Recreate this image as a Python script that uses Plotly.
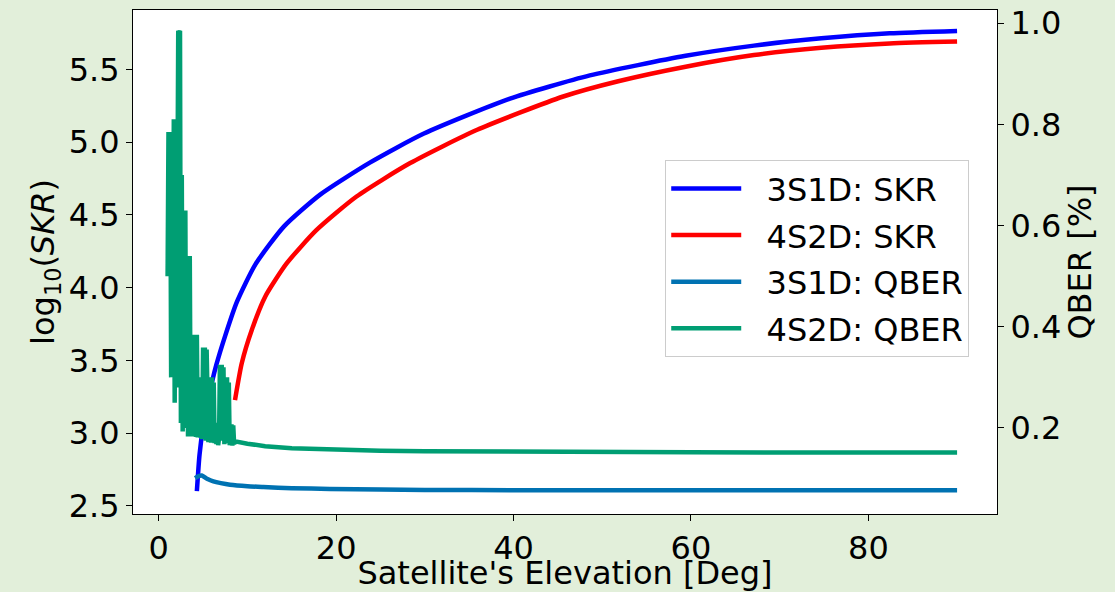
import plotly.graph_objects as go

# ---- data ----
skr3_x = [4.3, 4.6, 5.0, 5.5, 6.0, 6.5, 7.5, 8.8, 10.9, 14.1, 18.2, 23.8, 29.9, 39.6, 48.6, 59.4, 67.1, 74.7, 82.4, 90.0]
skr3_y = [2.60, 2.85, 3.04, 3.21, 3.35, 3.47, 3.67, 3.90, 4.16, 4.42, 4.64, 4.86, 5.06, 5.30, 5.46, 5.595, 5.665, 5.715, 5.75, 5.766]

skr4_x = [8.6, 9.36, 10.49, 12.0, 14.44, 17.8, 22.3, 28.35, 35.9, 45.6, 51.8, 59.4, 67.1, 74.7, 82.4, 90.0]
skr4_y = [3.227, 3.48, 3.709, 3.938, 4.168, 4.397, 4.627, 4.857, 5.086, 5.315, 5.42, 5.52, 5.60, 5.65, 5.68, 5.693]

qber3_x = [4.1, 4.5, 4.85, 5.5, 6.16, 7.0, 8.04, 10.0, 11.8, 15.0, 19.3, 25.0, 30.0, 40.0, 60.0, 90.0]
qber3_y = [0.101, 0.105, 0.106, 0.099, 0.0944, 0.091, 0.088, 0.085, 0.0834, 0.081, 0.0795, 0.0782, 0.0775, 0.077, 0.0767, 0.0767]

qber4_x = [1.0, 1.1, 1.2, 1.3, 1.4, 1.5, 1.6, 1.7, 1.8, 1.9,
           2.0, 2.1, 2.2, 2.3, 2.4, 2.5, 2.6, 2.7, 2.8, 2.9,
           3.0, 3.1, 3.2, 3.3, 3.4, 3.5, 3.6, 3.7, 3.8, 3.9,
           4.0, 4.1, 4.2, 4.3, 4.4, 4.5, 4.6, 4.7, 4.8, 4.9,
           5.0, 5.1, 5.2, 5.3, 5.4, 5.5, 5.6, 5.7, 5.8, 5.9,
           6.0, 6.1, 6.2, 6.3, 6.4, 6.5, 6.6, 6.7, 6.8, 6.9,
           7.0, 7.1, 7.2, 7.3, 7.4, 7.5, 7.6, 7.7, 7.8, 7.9,
           8.0, 8.1, 8.2, 8.3, 8.4, 8.5, 8.6,
           10.0, 12.0, 15.0, 20.0, 25.0, 30.0, 45.0, 60.0, 75.0, 90.0]
qber4_y = [0.50, 0.785, 0.52, 0.785, 0.30, 0.78, 0.40, 0.81, 0.25, 0.81,
           0.28, 0.75, 0.985, 0.98, 0.985, 0.21, 0.70, 0.193, 0.63, 0.30,
           0.63, 0.20, 0.45, 0.183, 0.539, 0.54, 0.19, 0.35, 0.183, 0.384,
           0.20, 0.384, 0.182, 0.384, 0.181, 0.30, 0.25, 0.181, 0.22, 0.178,
           0.359, 0.19, 0.359, 0.175, 0.355, 0.20, 0.172, 0.22, 0.30, 0.171,
           0.30, 0.18, 0.29, 0.17, 0.21, 0.168, 0.19, 0.166, 0.18, 0.325,
           0.175, 0.325, 0.22, 0.32, 0.168, 0.30, 0.18, 0.30, 0.17, 0.29,
           0.166, 0.18, 0.207, 0.165, 0.205, 0.168, 0.1735,
           0.169, 0.164, 0.160, 0.157, 0.155, 0.154, 0.152, 0.1518, 0.1516, 0.1516]

series_names = ["3S1D: SKR", "4S2D: SKR", "3S1D: QBER", "4S2D: QBER"]
x_ticks = [0, 20, 40, 60, 80]
left_ticks = [2.5, 3.0, 3.5, 4.0, 4.5, 5.0, 5.5]
right_ticks = [0.2, 0.4, 0.6, 0.8, 1.0]

FONT = "DejaVu Sans"
FS = 32
LW = 4.5
NB = "\u00a0\u00a0"

fig = go.Figure()
fig.add_trace(go.Scatter(x=skr3_x, y=skr3_y, mode="lines", name=NB + series_names[0],
                         line=dict(color="#0000ff", width=LW, shape="spline", smoothing=0.6),
                         legendgroup="a"))
fig.add_trace(go.Scatter(x=skr4_x, y=skr4_y, mode="lines", name=NB + series_names[1],
                         line=dict(color="#ff0000", width=LW, shape="spline", smoothing=0.6),
                         legendgroup="b"))
fig.add_trace(go.Scatter(x=qber3_x, y=qber3_y, mode="lines", name=NB + series_names[2],
                         line=dict(color="#0072B2", width=LW, shape="spline", smoothing=0.6),
                         yaxis="y2", legendgroup="c"))
fig.add_trace(go.Scatter(x=qber4_x, y=qber4_y, mode="lines", name=NB + series_names[3],
                         line=dict(color="#009E73", width=LW),
                         yaxis="y2", legendgroup="d"))

axis_common = dict(showgrid=False, zeroline=False, showline=True, linecolor="black",
                   linewidth=1, ticks="outside", ticklen=6, tickcolor="black",
                   automargin=False,
                   tickfont=dict(family=FONT, size=FS, color="black"))

fig.update_layout(
    template="none",
    width=1115, height=592, autosize=False,
    margin=dict(l=133, r=118, t=10, b=78, pad=0),
    paper_bgcolor="#e2efda", plot_bgcolor="white",
    font=dict(family=FONT, size=FS, color="black"),
    xaxis=dict(range=[-2.9, 94.5], tickvals=x_ticks, mirror=True,
               title=dict(text="Satellite's Elevation [Deg]", font=dict(family=FONT, size=FS), standoff=0),
               **axis_common),
    yaxis=dict(range=[2.443, 5.91], tickvals=left_ticks, tickformat=".1f",
               title=dict(text="log<sub>10</sub>(<i>SKR</i>)", font=dict(family=FONT, size=FS), standoff=4),
               **axis_common),
    yaxis2=dict(range=[0.030, 1.026], tickvals=right_ticks, tickformat=".1f",
                overlaying="y", side="right",
                title=dict(text="QBER [%]", font=dict(family=FONT, size=FS), standoff=0),
                **axis_common),
    legend=dict(x=0.616, y=0.702, xanchor="left", yanchor="top",
                bgcolor="white", bordercolor="#cccccc", borderwidth=1,
                font=dict(family=FONT, size=FS, color="black"),
                tracegroupgap=2, itemwidth=70),
    showlegend=True,
)

fig.write_html("out.html", config={"displayModeBar": False},
               post_script="document.body.style.margin='0px';document.body.style.padding='0px';")
